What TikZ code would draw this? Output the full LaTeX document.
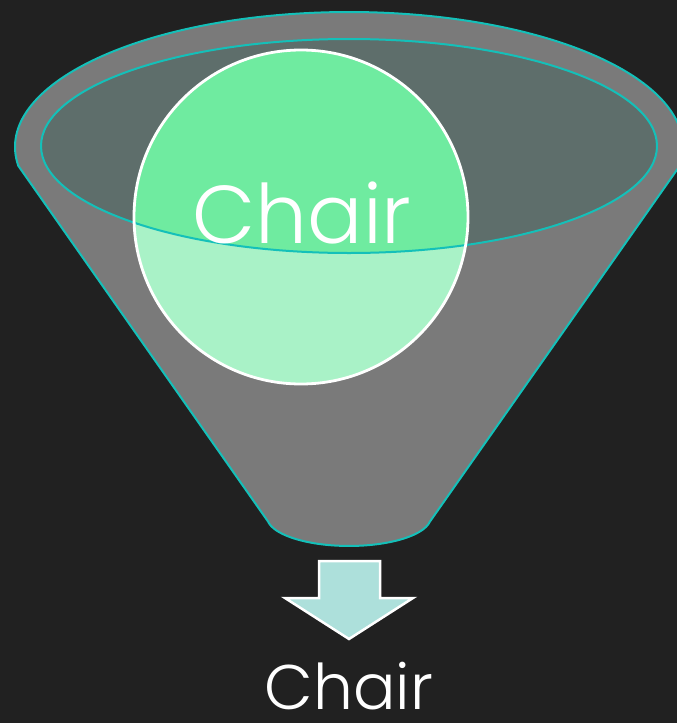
\documentclass[tikz,border=0pt]{standalone}
\usepackage{fontspec}
\IfFontExistsTF{Poppins Light}{\setmainfont{Poppins Light}}{\setmainfont{Poppins}}
\usetikzlibrary{positioning}
\definecolor{backdark}{RGB}{33,33,33}
\definecolor{funnelgray}{RGB}{122,122,122}
\definecolor{rimcyan}{RGB}{20,192,185}
\definecolor{mouthgray}{RGB}{94,110,107}
\definecolor{ballgreen}{RGB}{111,235,160}
\definecolor{balllight}{RGB}{169,242,199}
\definecolor{arrowmint}{RGB}{173,224,219}
\tikzset{
  rimline/.style={draw=rimcyan, line width=2pt},
  ballline/.style={draw=white, line width=2.8pt},
  bigword/.style={text=white, font=\fontsize{82}{86}\selectfont, inner sep=0pt},
  outword/.style={text=white, font=\fontsize{63}{66}\selectfont, inner sep=0pt}
}

\begin{document}
\begin{tikzpicture}[x=1pt, y=-1pt, line cap=round, line join=round]
  \fill[backdark] (0,0) rectangle (677,723);
  \useasboundingbox (0,0) rectangle (677,723);

  % Funnel body: upper half of the rim ellipse, the two sides and the spout.
  \fill[funnelgray, rimline]
    (18.3,165.8) arc[start angle=172, end angle=368, x radius=334, y radius=135]
    -- (430,521.5)
    arc[start angle=9, end angle=171, x radius=82, y radius=29]
    -- cycle;

  % Mouth of the funnel.
  \fill[mouthgray] (349,146) ellipse[x radius=308, y radius=107];

  % The ball: pale where it hangs below the mouth, brighter inside it.
  \node[circle, minimum size=334pt, fill=balllight] (ball) at (301,217) {};
  \begin{scope}
    \clip (349,146) ellipse[x radius=308, y radius=107];
    \fill[ballgreen] (ball.center) circle[radius=167];
  \end{scope}
  \draw[rimline] (349,146) ellipse[x radius=308, y radius=107];
  \draw[ballline] (ball.center) circle[radius=167];
  \node[bigword] (balltext) at (302,213) {Chair};

  % Output arrow under the spout.
  \filldraw[fill=arrowmint, draw=white, line width=2.5pt, line join=miter]
    (319,561) -- (380,561) -- (380,598) -- (413,598) -- (349,639)
    -- (285,598) -- (319,598) -- cycle;

  \node[outword] (result) at (349,686) {Chair};
\end{tikzpicture}
\end{document}
